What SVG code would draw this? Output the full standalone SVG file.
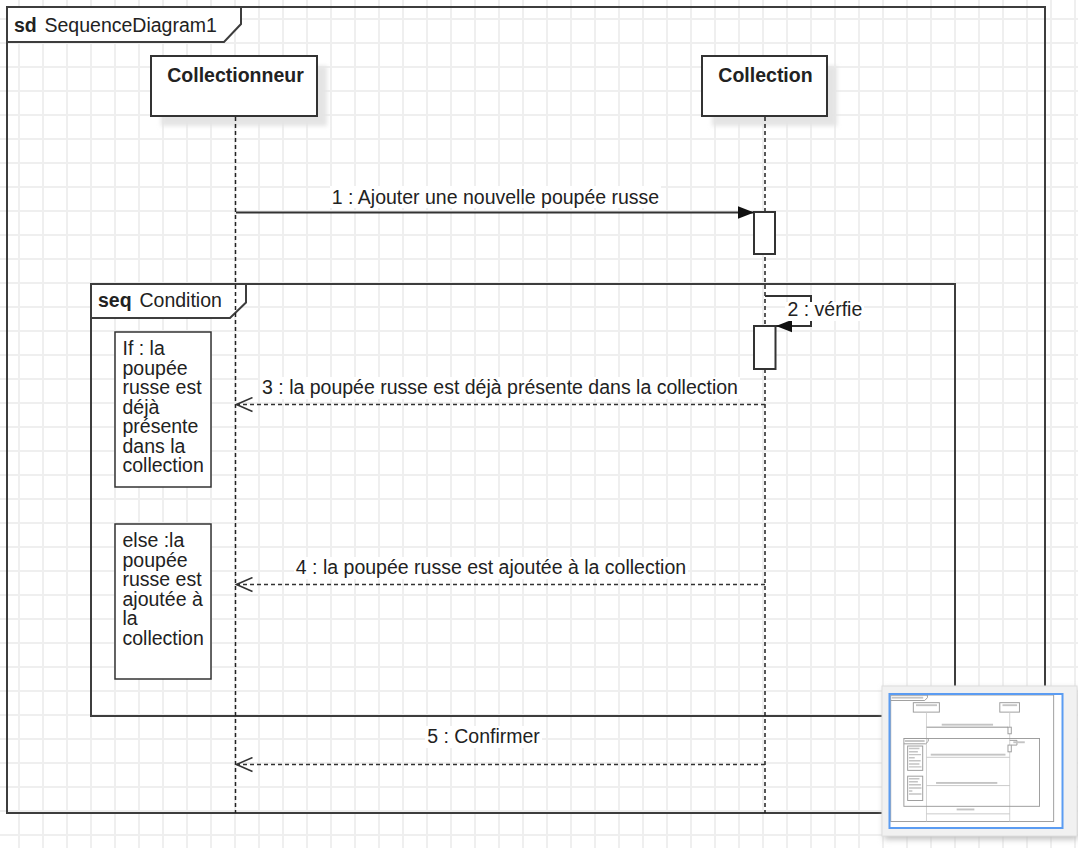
<svg xmlns="http://www.w3.org/2000/svg" width="1078" height="848" viewBox="0 0 1078 848">
<style>
.frame{fill:none;stroke:#3d3d3d;stroke-width:2}
.tab{fill:#fff;stroke:#3d3d3d;stroke-width:2}
.box{fill:#fff;stroke:#333;stroke-width:2}
.shadow{fill:#e4e4e4;filter:url(#blur)}
.life{stroke:#222;stroke-width:1.5;stroke-dasharray:4 3;fill:none}
.msg{stroke:#333;stroke-width:2;fill:none}
.ret{stroke:#333;stroke-width:1.5;stroke-dasharray:4 3;fill:none}
.t{font-family:"Liberation Sans",Arial,Helvetica,sans-serif;font-size:19.5px;fill:#222}
.b{font-weight:bold}
.bg{fill:#fff}
.mm{fill:none;stroke:#9a9a9a;stroke-width:6}
.mmf{fill:#fff;stroke:#9a9a9a;stroke-width:6}
.mmt{fill:#c4c4c4}
</style>
<defs>
<pattern id="grid" width="24" height="24" patternUnits="userSpaceOnUse">
<rect width="24" height="24" fill="#fff"/>
<rect x="18" y="0" width="2" height="24" fill="#efefef"/>
<rect x="0" y="18" width="24" height="2" fill="#efefef"/>
</pattern>
<filter id="blur" x="-20%" y="-20%" width="140%" height="140%"><feGaussianBlur stdDeviation="2"/></filter>
<filter id="pshadow" x="-10%" y="-10%" width="120%" height="120%"><feGaussianBlur stdDeviation="3"/></filter>
<marker id="filled" markerUnits="userSpaceOnUse" markerWidth="16" markerHeight="14" refX="16" refY="7" orient="auto">
<path d="M0,0.7 L16,7 L0,13.3 z" fill="#111"/>
</marker>
<marker id="open" markerUnits="userSpaceOnUse" markerWidth="18" markerHeight="16" refX="16.5" refY="8" orient="auto">
<path d="M0.5,1 L16.5,8 L0.5,15" fill="none" stroke="#333" stroke-width="1.5"/>
</marker>
</defs>

<rect x="0" y="0" width="1078" height="848" fill="url(#grid)"/>

<g id="frame-sd">
<rect class="frame" x="7" y="7" width="1038" height="806"/>
<path class="tab" d="M7,7 H241 V24 L224,42 H7 Z"/>
<text class="t" x="14" y="31.5"><tspan class="b">sd</tspan><tspan x="44.5">SequenceDiagram1</tspan></text>
</g>

<g id="frame-seq">
<rect class="frame" x="91" y="284" width="864" height="432"/>
<path class="tab" d="M91,284 H246 V302.5 L230,318 H91 Z"/>
<text class="t" x="98" y="307"><tspan class="b">seq</tspan><tspan x="139.5">Condition</tspan></text>
</g>

<g id="lifeline-collectionneur">
<rect class="shadow" x="161" y="66" width="166" height="60"/>
<rect class="box" x="151" y="56" width="166" height="60"/>
<text class="t b" x="235.5" y="82" text-anchor="middle">Collectionneur</text>
<line class="life" x1="235.5" y1="117" x2="235.5" y2="813"/>
</g>

<g id="lifeline-collection">
<rect class="shadow" x="712" y="66" width="125" height="60"/>
<rect class="box" x="702" y="56" width="125" height="60"/>
<text class="t b" x="765.5" y="82" text-anchor="middle">Collection</text>
<line class="life" x1="765" y1="117" x2="765" y2="813"/>
</g>

<g id="note-if">
<rect class="box" x="115" y="332" width="96" height="155" style="stroke-width:1.5"/>
<text class="t" x="122.5" y="355"><tspan x="122.5">If : la</tspan><tspan x="122.5" dy="19.5">poupée</tspan><tspan x="122.5" dy="19.5">russe est</tspan><tspan x="122.5" dy="19.5">déjà</tspan><tspan x="122.5" dy="19.5">présente</tspan><tspan x="122.5" dy="19.5">dans la</tspan><tspan x="122.5" dy="19.5">collection</tspan></text>
</g>

<g id="note-else">
<rect class="box" x="115" y="524" width="96" height="155" style="stroke-width:1.5"/>
<text class="t" x="122.5" y="547"><tspan x="122.5">else :la</tspan><tspan x="122.5" dy="19.5">poupée</tspan><tspan x="122.5" dy="19.5">russe est</tspan><tspan x="122.5" dy="19.5">ajoutée à</tspan><tspan x="122.5" dy="19.5">la</tspan><tspan x="122.5" dy="19.5">collection</tspan></text>
</g>

<g id="activation-1">
<rect class="box" x="754" y="212" width="21" height="42"/>
</g>

<g id="activation-2">
<rect class="box" x="754" y="326" width="21.5" height="43"/>
</g>

<g id="connectors">
<line class="msg" x1="236" y1="212.5" x2="754" y2="212.5" marker-end="url(#filled)"/>
<rect class="bg" x="330" y="186" width="331" height="22"/>
<text class="t" x="495.5" y="203.5" text-anchor="middle">1 : Ajouter une nouvelle poupée russe</text>

<path class="msg" d="M765,296 H811 V326 H776" marker-end="url(#filled)"/>
<rect class="bg" x="785" y="302" width="79" height="19"/>
<text class="t" x="787.5" y="316">2 : vérfie</text>

<line class="ret" x1="765" y1="404.5" x2="236.5" y2="404.5" marker-end="url(#open)"/>
<rect class="bg" x="260" y="377" width="480" height="22"/>
<text class="t" x="500" y="394" text-anchor="middle">3 : la poupée russe est déjà présente dans la collection</text>

<line class="ret" x1="765" y1="584.5" x2="236.5" y2="584.5" marker-end="url(#open)"/>
<rect class="bg" x="294" y="557" width="394" height="22"/>
<text class="t" x="491" y="574" text-anchor="middle">4 : la poupée russe est ajoutée à la collection</text>

<line class="ret" x1="765" y1="764.5" x2="236.5" y2="764.5" marker-end="url(#open)"/>
<rect class="bg" x="425" y="726" width="117" height="22"/>
<text class="t" x="483.5" y="743" text-anchor="middle">5 : Confirmer</text>
</g>

<g id="minimap">
<rect x="884" y="689" width="194" height="150" fill="#bbb" filter="url(#pshadow)"/>
<rect x="882" y="686" width="195" height="150" fill="#f1f1f1" stroke="#dedede" stroke-width="1"/>
<rect x="889.5" y="694" width="173" height="134" fill="#fff"/>
<g transform="matrix(0.157 0 0 0.157 889.6 693.9)">
<rect class="mm" x="7" y="7" width="1038" height="806"/>
<path class="mm" d="M7,7 H241 V24 L224,42 H7"/>
<rect class="mmt" x="14" y="18" width="200" height="12"/>
<rect class="mmf" x="151" y="56" width="166" height="60"/>
<rect class="mmt" x="168" y="66" width="134" height="12"/>
<rect class="mmf" x="702" y="56" width="125" height="60"/>
<rect class="mmt" x="719" y="66" width="93" height="12"/>
<line x1="235" y1="116" x2="235" y2="813" stroke="#c8c8c8" stroke-width="5"/>
<line x1="765" y1="116" x2="765" y2="813" stroke="#c8c8c8" stroke-width="5"/>
<rect class="mm" x="91" y="284" width="864" height="432"/>
<path class="mm" d="M91,284 H246 V302 L230,318 H91"/>
<rect class="mmt" x="98" y="294" width="125" height="12"/>
<rect class="mmf" x="115" y="332" width="96" height="155"/>
<path d="M123,348 H190 M123,368 H180 M123,387 H200 M123,407 H160 M123,426 H198 M123,446 H190 M123,465 H203" stroke="#c4c4c4" stroke-width="9"/>
<rect class="mmf" x="115" y="524" width="96" height="155"/>
<path d="M123,540 H190 M123,560 H180 M123,579 H200 M123,599 H203 M123,618 H145 M123,638 H203" stroke="#c4c4c4" stroke-width="9"/>
<rect class="mmf" x="754" y="212" width="21" height="42"/>
<rect class="mmf" x="754" y="326" width="21" height="43"/>
<line x1="236" y1="212" x2="754" y2="212" stroke="#8a8a8a" stroke-width="6"/>
<rect class="mmt" x="332" y="190" width="327" height="12"/>
<path class="mm" d="M765,296 H811 V326 H776"/>
<rect class="mmt" x="788" y="302" width="73" height="12"/>
<line x1="236" y1="404" x2="765" y2="404" stroke="#bdbdbd" stroke-width="5"/>
<rect class="mmt" x="262" y="381" width="476" height="12"/>
<line x1="236" y1="584" x2="765" y2="584" stroke="#bdbdbd" stroke-width="5"/>
<rect class="mmt" x="296" y="561" width="390" height="12"/>
<line x1="236" y1="764" x2="765" y2="764" stroke="#bdbdbd" stroke-width="5"/>
<rect class="mmt" x="427" y="730" width="113" height="12"/>
</g>
<rect x="889.5" y="694" width="173" height="134" fill="none" stroke="#5b9cf2" stroke-width="2"/>
</g>
</svg>
